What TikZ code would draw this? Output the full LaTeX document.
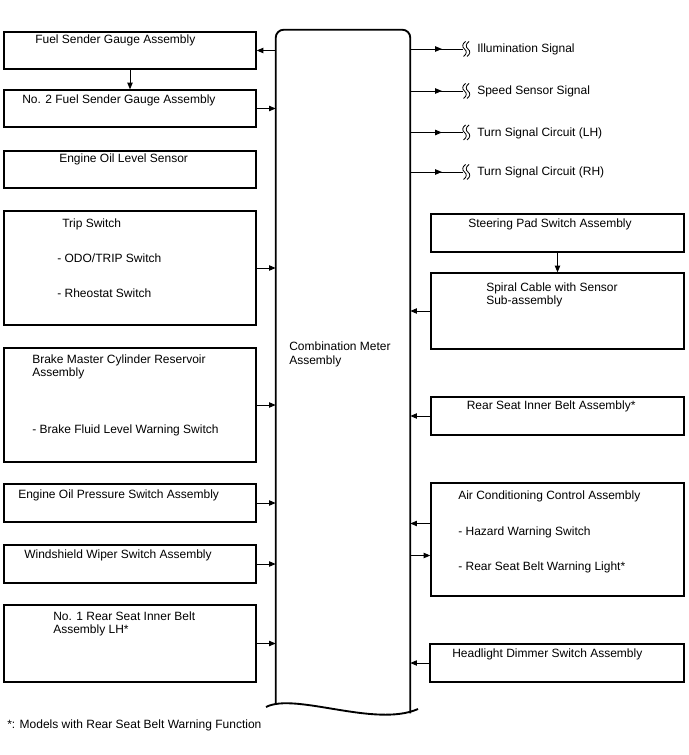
\documentclass[tikz,border=0pt]{standalone}
\usepackage{fontspec}
\setmainfont{Liberation Sans}
\usetikzlibrary{arrows.meta,fit,calc,decorations.markings}

\begin{document}
\begin{tikzpicture}[
  x=0.75pt, y=-0.75pt,
  box/.style={rectangle, draw, line width=1pt, inner sep=0pt},
  lbl/.style={anchor=base west, inner sep=0pt, align=left,
              font=\fontsize{9}{10.2}\selectfont},
  arr/.style={-{Triangle[length=5pt,width=4pt]}, line width=0.7pt},
  sig/.style={line width=0.7pt, postaction={decorate},
              decoration={markings, mark=at position 0.6 with
                {\arrow{Triangle[length=5pt,width=4pt]}}}},
  brk/.pic={
    \draw[line width=0.6pt] (1,-7.5) .. controls (-2.5,-5) and (-2.5,-2) .. (0,0)
      .. controls (2.5,2) and (2.5,5) .. (-1,7.5);
    \draw[line width=0.6pt] (4.5,-7.5) .. controls (1,-5) and (1,-2) .. (3.5,0)
      .. controls (6,2) and (6,5) .. (2.5,7.5);
  }
]
\useasboundingbox (0,0) rectangle (688,755);

% Combination meter (two-line labels sit on the baseline of their last line)
\node[inner sep=0pt, fit={(276,30) (410,713)}] (meter) {};
\draw[line width=1.4pt, rounded corners=6pt]
  ($(meter.south west)+(0,-10)$) -- (meter.north west) -- (meter.north east) -- (meter.south east);
\draw[line width=1.4pt] (266,707) .. controls (295,692) and (375,728) .. (418,709);
\node[lbl] (meter-t) at (289,364) {Combination Meter\\Assembly};

% Left side
\node[box, fit={(4,32) (256,69)}] (fuel) {};
\node[lbl] (fuel-t) at (35,44) {Fuel Sender Gauge Assembly};
\node[box, fit={(4,90) (256,127)}] (fuel2) {};
\node[lbl] (fuel2-t) at (22,104) {No. 2 Fuel Sender Gauge Assembly};
\node[box, fit={(4,151) (256,188)}] (oillvl) {};
\node[lbl] (oillvl-t) at (59,163) {Engine Oil Level Sensor};
\node[box, fit={(4,211) (256,325)}] (trip) {};
\node[lbl] (trip-t) at (62,228) {Trip Switch};
\node[lbl] (trip-a) at (57,262.5) {- ODO/TRIP Switch};
\node[lbl] (trip-b) at (57,297.5) {- Rheostat Switch};
\node[box, fit={(4,348) (256,462)}] (brake) {};
\node[lbl] (brake-t) at (32,376.6) {Brake Master Cylinder Reservoir\\Assembly};
\node[lbl] (brake-a) at (32,433.5) {- Brake Fluid Level Warning Switch};
\node[box, fit={(4,484) (256,522)}] (oilpr) {};
\node[lbl] (oilpr-t) at (18,498) {Engine Oil Pressure Switch Assembly};
\node[box, fit={(4,545) (256,583)}] (wiper) {};
\node[lbl] (wiper-t) at (24,558) {Windshield Wiper Switch Assembly};
\node[box, fit={(4,605) (256,682)}] (rsb1) {};
\node[lbl] (rsb1-t) at (53,633.6) {No. 1 Rear Seat Inner Belt\\Assembly LH*};

% Right side
\foreach \y/\n/\txt in {49/ill/Illumination Signal, 91/spd/Speed Sensor Signal,
    132.5/tlh/Turn Signal Circuit (LH), 172/trh/Turn Signal Circuit (RH)} {
  \coordinate (\n) at (463,\y);
  \draw[sig] (meter.east |- \n) -- (\n);
  \pic at ($(\n)+(1.5,0)$) {brk};
  \node[lbl] (\n-t) at (477,\y+4) {\txt};
}
\node[box, fit={(431,214) (684,252)}] (steer) {};
\node[lbl] (steer-t) at (468,227.5) {Steering Pad Switch Assembly};
\node[box, fit={(431,273) (684,349)}] (spiral) {};
\node[lbl] (spiral-t) at (486,304.6) {Spiral Cable with Sensor\\Sub-assembly};
\node[box, fit={(431,397) (684,435)}] (rsib) {};
\node[lbl] (rsib-t) at (466.5,409) {Rear Seat Inner Belt Assembly*};
\node[box, fit={(431,483) (684,596)}] (aircon) {};
\node[lbl] (aircon-t) at (458,499) {Air Conditioning Control Assembly};
\node[lbl] (aircon-a) at (458,535) {- Hazard Warning Switch};
\node[lbl] (aircon-b) at (458,570.5) {- Rear Seat Belt Warning Light*};
\node[box, fit={(430,644) (684,682)}] (dimmer) {};
\node[lbl] (dimmer-t) at (452,657) {Headlight Dimmer Switch Assembly};

% Footnote
\node[lbl] (note) at (7,728) {*: Models with Rear Seat Belt Warning Function};

% Arrows
\draw[arr] (meter.west |- fuel.east) -- (fuel.east);
\draw[arr] (fuel.south) -- (fuel2.north);
\draw[arr] (fuel2.east) -- (fuel2.east -| meter.west);
\draw[arr] (trip.east) -- (trip.east -| meter.west);
\draw[arr] (brake.east) -- (brake.east -| meter.west);
\draw[arr] (oilpr.east) -- (oilpr.east -| meter.west);
\draw[arr] (wiper.east) -- (wiper.east -| meter.west);
\draw[arr] (rsb1.east) -- (rsb1.east -| meter.west);
\draw[arr] (steer.south) -- (spiral.north);
\draw[arr] (spiral.west) -- (spiral.west -| meter.east);
\draw[arr] (rsib.west) -- (rsib.west -| meter.east);
\coordinate (ac-in) at ($(aircon.west)+(0,-16)$);
\coordinate (ac-out) at ($(aircon.west)+(0,16)$);
\draw[arr] (ac-in) -- (ac-in -| meter.east);
\draw[arr] (meter.east |- ac-out) -- (ac-out);
\draw[arr] (dimmer.west) -- (dimmer.west -| meter.east);
\end{tikzpicture}
\end{document}
